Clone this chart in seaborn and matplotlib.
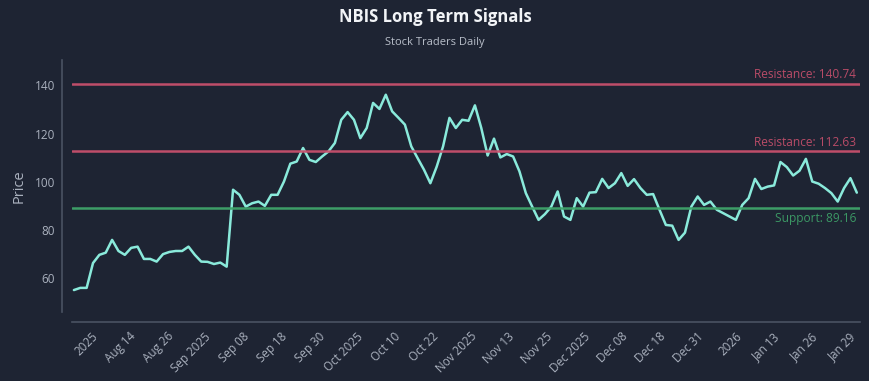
import numpy as np
import pandas as pd
import matplotlib
matplotlib.use("Agg")
import matplotlib.pyplot as plt
import matplotlib.transforms as mtransforms
import seaborn as sns
from matplotlib import font_manager

# ---------------- data ----------------
prices = [
    55.1, 56.0, 56.0, 66.3, 69.7, 70.6, 75.9, 71.3, 69.7, 72.6, 73.1, 68.0,
    68.0, 66.9, 70.0, 70.9, 71.3, 71.3, 73.1, 69.7, 66.9, 66.8, 65.9, 66.5,
    64.8, 96.7, 94.6, 89.7, 91.1, 91.8, 90.0, 94.6, 94.6, 100.1, 107.5, 108.4,
    114.0, 109.1, 108.2, 110.5, 112.6, 116.1, 125.7, 128.9, 125.7, 118.1, 122.3,
    132.7, 130.2, 136.1, 129.2, 126.5, 123.7, 114.7, 109.8, 105.0, 99.4, 106.3,
    114.7, 126.5, 122.3, 125.7, 125.3, 131.7, 122.3, 110.9, 117.9, 110.1, 111.5,
    110.5, 104.3, 95.3, 89.7, 84.2, 86.6, 89.7, 96.0, 85.6, 84.2,
    93.2, 89.7, 95.5, 95.7, 101.2, 97.4, 99.4, 103.6, 98.3, 101.1, 97.4, 94.6,
    94.9, 88.4, 82.1, 81.8, 75.9, 78.9, 89.7, 93.9, 90.4, 91.8, 88.4, 87.0,
    85.6, 84.2, 90.4, 93.2, 101.2, 97.0, 98.0, 98.5, 108.2, 106.1, 102.6, 104.6,
    109.5, 100.1, 99.2, 97.4, 95.3, 91.8, 97.4, 101.5, 95.5,
]
tick_labels = ["2025", "Aug 14", "Aug 26", "Sep 2025", "Sep 08", "Sep 18",
               "Sep 30", "Oct 2025", "Oct 10", "Oct 22", "Nov 2025", "Nov 13",
               "Nov 25", "Dec 2025", "Dec 08", "Dec 18", "Dec 31", "2026",
               "Jan 13", "Jan 26", "Jan 29"]
y_ticks = [60, 80, 100, 120, 140]
resistance_levels = [140.74, 112.63]
support_levels = [89.16]
title = "NBIS Long Term Signals"
subtitle = "Stock Traders Daily"
y_label = "Price"

# ---------------- style ----------------
BG = "#1e2433"
GRID_TXT = "#aab1be"
SPINE = "#4a5263"
LINE = "#8aeadb"
RES = "#c9506d"
SUP = "#3fa56a"

sns.set_theme(style="dark", rc={
    "figure.facecolor": BG,
    "axes.facecolor": BG,
    "axes.edgecolor": SPINE,
    "axes.labelcolor": GRID_TXT,
    "xtick.color": GRID_TXT,
    "ytick.color": GRID_TXT,
    "text.color": "#e8ebf0",
})
names = {f.name for f in font_manager.fontManager.ttflist}
fam = "Open Sans" if "Open Sans" in names else "DejaVu Sans"
plt.rcParams["font.family"] = [fam, "DejaVu Sans"]

fig = plt.figure(figsize=(8.7, 3.81), dpi=100, facecolor=BG)
ax = fig.add_axes([72 / 870, 1 - 312 / 381, 788 / 870, 252 / 381])

df = pd.DataFrame({"idx": np.arange(len(prices)), "price": prices})
sns.lineplot(data=df, x="idx", y="price", ax=ax, color=LINE, linewidth=1.8)

trans = mtransforms.blended_transform_factory(ax.transAxes, ax.transData)
for r in resistance_levels:
    ax.axhline(r, color=RES, lw=1.8, alpha=0.95)
    ax.annotate(f"Resistance: {r:.2f}", xy=(0.995, r), xycoords=trans,
                xytext=(0, 2), textcoords="offset points",
                ha="right", va="bottom", color=RES, fontsize=8.6, alpha=0.9)
for s in support_levels:
    ax.axhline(s, color=SUP, lw=1.8, alpha=0.95)
    ax.annotate(f"Support: {s:.2f}", xy=(0.995, s), xycoords=trans,
                xytext=(0, -3), textcoords="offset points",
                ha="right", va="top", color=SUP, fontsize=8.6, alpha=0.9)

# spines first (moving spines resets tick label properties)
sns.despine(ax=ax, offset=7)
for sp in ("left", "bottom"):
    ax.spines[sp].set_color(SPINE)
    ax.spines[sp].set_linewidth(1.2)

ax.set_xlim(-0.3, len(prices) - 0.5)
ax.set_ylim(46, 150.5)
tick_pos = np.linspace(4.1, 123.2, len(tick_labels))
ax.set_xticks(tick_pos)
ax.set_xticklabels(tick_labels, rotation=45, ha="right",
                   rotation_mode="default", fontsize=8.4)
ax.set_yticks(y_ticks)
ax.set_yticklabels([str(v) for v in y_ticks], fontsize=8.5)
ax.tick_params(axis="both", length=0)
ax.tick_params(axis="x", pad=6)
ax.tick_params(axis="y", pad=5)
ax.set_xlabel("")
ax.set_ylabel(y_label, fontsize=10.5, labelpad=6)

fig.text(0.5, 1 - 17 / 381, title, ha="center", va="center",
         fontsize=12, fontweight="bold", color="#f2f4f7")
fig.text(0.5, 1 - 42 / 381, subtitle, ha="center", va="center",
         fontsize=8, color="#b8bec9")

fig.savefig("out.png", dpi=100, facecolor=BG)
